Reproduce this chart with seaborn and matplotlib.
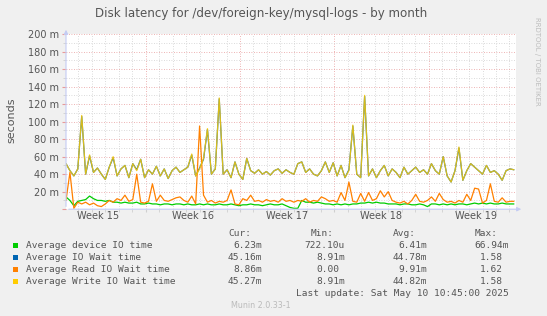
import numpy as np
import pandas as pd
import matplotlib
matplotlib.use("Agg")
import matplotlib.pyplot as plt
import matplotlib.dates as mdates
import matplotlib.transforms as mtrans
from matplotlib.ticker import MultipleLocator, FuncFormatter, NullFormatter
from matplotlib.patches import Rectangle
import seaborn as sns

# ---- data (milliseconds), one sample every 7 hours ----
t_start = "2025-04-07 02:00"
t_end = "2025-05-10 11:40"

device_io = [14, 10, 4, 9, 10, 11, 15, 12, 10, 10, 9, 10, 8, 8, 7, 8, 7, 7, 8, 6,
             6, 7, 6, 6, 5, 6, 6, 5, 6, 6, 5, 6, 5, 5, 6, 5, 6, 5, 5, 6,
             5, 5, 6, 5, 4, 5, 5, 6, 5, 5, 4, 5, 6, 5, 5, 6, 4, 2, 1, 1,
             10, 8, 8, 7, 8, 7, 6, 6, 5, 6, 5, 6, 5, 6, 6, 7, 7, 8, 7, 8,
             7, 7, 6, 6, 6, 5, 6, 6, 5, 5, 6, 5, 3, 6, 6, 5, 6, 5, 6, 5,
             6, 6, 5, 6, 7, 6, 7, 6, 7, 6, 6, 7, 6, 6, 6]

io_wait = [52, 44, 38, 46, 106, 40, 61, 42, 47, 40, 34, 48, 59, 38, 46, 50, 36, 52, 45, 57,
           36, 45, 40, 49, 38, 46, 35, 44, 48, 42, 45, 48, 62, 38, 47, 57, 91, 40, 46, 126,
           40, 45, 36, 54, 40, 34, 58, 44, 41, 45, 40, 43, 39, 44, 46, 41, 45, 42, 40, 52,
           54, 42, 46, 40, 38, 44, 54, 42, 53, 38, 50, 36, 45, 95, 40, 36, 129, 38, 46, 36,
           44, 50, 38, 46, 42, 36, 48, 40, 44, 48, 42, 45, 40, 52, 44, 40, 60, 38, 31, 44,
           70, 33, 44, 52, 48, 44, 40, 50, 42, 44, 40, 33, 44, 46, 45]

read_wait = [10, 42, 1, 8, 6, 8, 5, 7, 4, 3, 6, 10, 8, 12, 10, 16, 9, 11, 40, 8,
             7, 9, 29, 9, 16, 10, 9, 11, 13, 14, 10, 8, 15, 6, 95, 16, 8, 10, 7, 9,
             8, 10, 22, 6, 5, 12, 10, 16, 9, 10, 8, 11, 9, 10, 8, 12, 9, 10, 8, 10,
             9, 12, 8, 10, 9, 14, 12, 9, 10, 8, 19, 10, 31, 9, 8, 18, 9, 19, 10, 12,
             21, 14, 20, 10, 8, 7, 9, 6, 10, 17, 9, 8, 10, 14, 9, 18, 11, 8, 9, 7,
             10, 8, 17, 10, 24, 23, 7, 10, 29, 9, 8, 13, 8, 9, 9]

write_wait = [52, 44, 38, 46, 107, 40, 62, 42, 47, 40, 34, 48, 60, 38, 46, 50, 36, 52, 44, 57,
              36, 45, 40, 49, 38, 46, 35, 44, 48, 42, 45, 48, 63, 38, 46, 58, 92, 40, 46, 127,
              40, 45, 36, 54, 40, 34, 58, 44, 41, 45, 40, 43, 39, 44, 46, 41, 45, 42, 40, 52,
              54, 42, 46, 40, 38, 44, 54, 42, 53, 38, 50, 36, 44, 96, 40, 36, 130, 38, 46, 36,
              44, 50, 38, 46, 42, 36, 48, 40, 44, 48, 42, 45, 40, 52, 44, 40, 60, 38, 31, 44,
              71, 33, 44, 52, 48, 44, 40, 50, 42, 44, 40, 33, 44, 46, 45]

series_names = ["Average device IO time", "Average IO Wait time",
                "Average Read IO Wait time", "Average Write IO Wait time"]
series_colors = ["#00CC00", "#0066B3", "#FF8000", "#FFCC00"]
cur_vals = ["6.23m", "45.16m", "8.86m", "45.27m"]
min_vals = ["722.10u", "8.91m", "0.00", "8.91m"]
avg_vals = ["6.41m", "44.78m", "9.91m", "44.82m"]
max_vals = ["66.94m", "1.58", "1.62", "1.58"]

week_labels = ["Week 15", "Week 16", "Week 17", "Week 18", "Week 19"]
week_mid = ["2025-04-09 12:00", "2025-04-16 12:00", "2025-04-23 12:00",
            "2025-04-30 12:00", "2025-05-07 12:00"]

times = pd.date_range(t_start, periods=len(write_wait), freq="7h")
all_series = [device_io, io_wait, read_wait, write_wait]

# ---- figure ----
sns.set_style("white")
plt.rcParams["font.family"] = ["DejaVu Sans"]

W, H = 547, 316
TXT = "#555555"
fig = plt.figure(figsize=(W / 100, H / 100), dpi=100, facecolor="#F0F0F0")


def fx(x):
    return x / W


def fy(y):
    return 1 - y / H


ax = fig.add_axes([fx(66), fy(209.2), (516 - 66) / W, (209.2 - 34) / H])
ax.set_facecolor("white")

# blue sits under yellow, yellow slightly see-through like the rrdtool blend
for vals, col in zip(all_series, series_colors):
    alpha = 0.85 if col == "#FFCC00" else 1.0
    sns.lineplot(x=times, y=vals, color=col, lw=0.9, alpha=alpha, ax=ax)

ax.set_xlim(pd.Timestamp(t_start), pd.Timestamp(t_end))
ax.set_ylim(0, 200)

# grid
ax.set_axisbelow(True)
ax.xaxis.set_major_locator(mdates.WeekdayLocator(byweekday=mdates.SU))
ax.xaxis.set_minor_locator(mdates.DayLocator())
ax.xaxis.set_major_formatter(NullFormatter())
ax.yaxis.set_major_locator(MultipleLocator(20))
ax.yaxis.set_minor_locator(MultipleLocator(10))
ax.yaxis.set_major_formatter(FuncFormatter(lambda v, p: f"{v:.0f} m" if v > 0 else ""))
ax.grid(which="major", color="#e89a9a", linestyle=(0, (1, 2)), lw=0.6)
ax.grid(which="minor", color="#cfcfcf", linestyle=(0, (1, 2)), lw=0.6)
ax.tick_params(axis="y", which="major", length=3, color="#e89a9a", labelsize=7,
               labelcolor=TXT, pad=2, left=True)
ax.tick_params(axis="y", which="minor", length=2, color="#cfcfcf", left=True)
ax.tick_params(axis="x", which="both", length=2, color="#cfcfcf", bottom=True)
ax.set_xlabel("")
ax.set_ylabel("")
for s in ax.spines.values():
    s.set_visible(False)

# axis lines with arrows
AX_COL = "#c4ccf4"
ax.annotate("", xy=(0, 1 + 7 / 175), xytext=(0, 0), xycoords="axes fraction",
            arrowprops=dict(arrowstyle="-|>", color=AX_COL, lw=0.8, mutation_scale=6),
            annotation_clip=False)
ax.annotate("", xy=(1 + 8 / 450, 0), xytext=(0, 0), xycoords="axes fraction",
            arrowprops=dict(arrowstyle="-|>", color=AX_COL, lw=0.8, mutation_scale=6),
            annotation_clip=False)

# week labels, centred on each week
week_tr = mtrans.blended_transform_factory(ax.transData, fig.transFigure)
for lab, pos in zip(week_labels, week_mid):
    ax.text(mdates.date2num(pd.Timestamp(pos)), fy(216), lab, ha="center",
            va="center", fontsize=7, color=TXT, transform=week_tr)

# titles
fig.text(fx(261), fy(14), "Disk latency for /dev/foreign-key/mysql-logs - by month",
         ha="center", va="center", fontsize=8.6, color=TXT)
fig.text(fx(11), fy(120), "seconds", rotation=90, ha="center", va="center",
         fontsize=8, color=TXT)
fig.text(fx(537), fy(61), "RRDTOOL / TOBI OETIKER", rotation=270, ha="center",
         va="center", fontsize=5, color="#bdbdbd")

# legend table
MONO = dict(family="DejaVu Sans Mono", fontsize=6.8, color=TXT)
CH = 5.7
row_y = [245.7, 257.7, 269.7, 281.7]
for hx, h in zip([228, 311, 393, 475], ["Cur:", "Min:", "Avg:", "Max:"]):
    fig.text(fx(hx), fy(233.3), h, ha="left", va="center", **MONO)

for i, (name, col) in enumerate(zip(series_names, series_colors)):
    y = row_y[i]
    fig.patches.append(Rectangle((fx(13.3), fy(y + 2.6)), 5 / W, 5 / H,
                                 transform=fig.transFigure, facecolor=col,
                                 edgecolor="none"))
    fig.text(fx(26), fy(y), name, ha="left", va="center", **MONO)
    for right, v in zip([262, 345, 427, 509],
                        [cur_vals[i], min_vals[i], avg_vals[i], max_vals[i]]):
        # values without a unit letter keep an empty unit column
        r = right - CH if v[-1].isdigit() else right
        fig.text(fx(r), fy(y), v, ha="right", va="center", **MONO)

fig.text(fx(509), fy(293.7), "Last update: Sat May 10 10:45:00 2025", ha="right",
         va="center", **MONO)
fig.text(fx(261), fy(305.3), "Munin 2.0.33-1", ha="center", va="center",
         fontsize=5.8, color="#bbbbbb")

fig.savefig("out.png", dpi=100, facecolor=fig.get_facecolor())
